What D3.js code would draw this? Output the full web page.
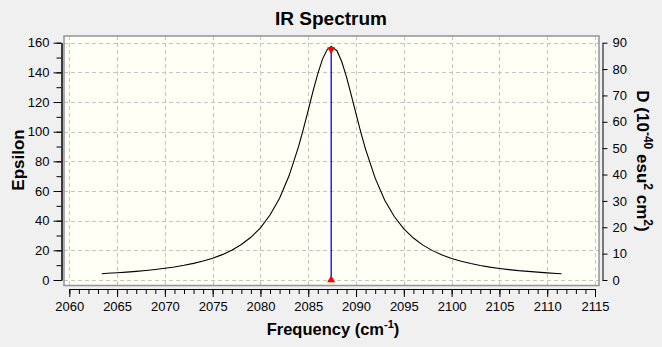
<!DOCTYPE html>
<html>
<head>
<meta charset="utf-8">
<script src="https://cdn.jsdelivr.net/npm/d3@7"></script>
<style>
  html, body { margin: 0; padding: 0; background: #f0f0f0; }
  svg { display: block; font-family: "Liberation Sans", Arial, sans-serif; }
</style>
</head>
<body>
<svg id="chart" width="662" height="347"></svg>
<script>
// Broadened IR band (Epsilon) sampled along frequency
const freq = [2063.4, 2064, 2065, 2066, 2067, 2068, 2069, 2070, 2071, 2072, 2073, 2074,
  2075, 2076, 2077, 2078, 2079, 2080, 2081, 2082, 2083, 2084, 2084.5, 2085, 2085.5,
  2086, 2086.5, 2087, 2087.4, 2088, 2088.5, 2089, 2089.5, 2090, 2090.5, 2091, 2092,
  2093, 2094, 2095, 2096, 2097, 2098, 2099, 2100, 2101, 2102, 2103, 2104, 2105, 2106,
  2107, 2108, 2109, 2110, 2111, 2111.5];
const epsilon = [4.2, 4.5, 4.9, 5.3, 5.8, 6.4, 7.1, 7.9, 8.8, 9.9, 11.2, 12.8,
  14.7, 17.1, 20.1, 23.9, 28.8, 35.2, 43.8, 55.1, 70.4, 90.3, 102.0, 114.5, 127.3,
  139.2, 149.1, 155.5, 157.5, 154.6, 147.3, 136.9, 124.7, 112.0, 99.6, 88.1, 68.7,
  53.8, 42.8, 34.5, 28.3, 23.5, 19.8, 16.9, 14.5, 12.6, 11.1, 9.8, 8.7, 7.8, 7.0,
  6.3, 5.8, 5.3, 4.8, 4.4, 4.2];

// Stick spectrum: dipole strength D (10^-40 esu^2 cm^2)
const stickFreq = [2087.4];
const stickD = [88.0];

// Axis ticks
const xTicks = [2060, 2065, 2070, 2075, 2080, 2085, 2090, 2095, 2100, 2105, 2110, 2115];
const xMinorTicks = d3.range(2060, 2116, 1);
const yTicks = [0, 20, 40, 60, 80, 100, 120, 140, 160];
const yMinorTicks = d3.range(0, 161, 10);
const y2Ticks = [0, 10, 20, 30, 40, 50, 60, 70, 80, 90];

const svg = d3.select("#chart");
const W = 662, H = 347;

const frame = { left: 64, top: 36, right: 599, bottom: 285.5 };

const x = d3.scaleLinear().domain([2060, 2115]).range([69.3, 595]);
const y = d3.scaleLinear().domain([0, 160]).range([280, 42.7]);
const y2 = d3.scaleLinear().domain([0, 90]).range([280, 42.7]);

svg.append("rect").attr("width", W).attr("height", H).attr("fill", "#f0f0f0");

// plot area
svg.append("rect")
  .attr("x", frame.left).attr("y", frame.top)
  .attr("width", frame.right - frame.left).attr("height", frame.bottom - frame.top)
  .attr("fill", "#fffff6");

// dashed grid
const grid = svg.append("g").attr("stroke", "#c4c4c4").attr("stroke-dasharray", "4,3").attr("stroke-width", 1);
grid.selectAll("line.h").data(yTicks).join("line")
  .attr("x1", frame.left).attr("x2", frame.right)
  .attr("y1", d => Math.round(y(d)) + 0.5).attr("y2", d => Math.round(y(d)) + 0.5);
grid.selectAll("line.v").data(xTicks).join("line")
  .attr("y1", frame.top).attr("y2", frame.bottom)
  .attr("x1", d => Math.round(x(d)) + 0.5).attr("x2", d => Math.round(x(d)) + 0.5);

// frame border
svg.append("rect")
  .attr("x", frame.left).attr("y", frame.top)
  .attr("width", frame.right - frame.left).attr("height", frame.bottom - frame.top)
  .attr("fill", "none").attr("stroke", "#8e949b").attr("stroke-width", 1.5);

// spectrum curve
const line = d3.line().x((d, i) => x(freq[i])).y(d => y(d));
svg.append("path").datum(epsilon)
  .attr("d", line).attr("fill", "none").attr("stroke", "#000").attr("stroke-width", 1.1);

// sticks
const sticks = stickFreq.map((f, i) => ({ f, d: stickD[i] }));
svg.selectAll("line.stick").data(sticks).join("line")
  .attr("x1", d => x(d.f)).attr("x2", d => x(d.f))
  .attr("y1", y2(0)).attr("y2", d => y2(d.d))
  .attr("stroke", "#0000ff").attr("stroke-width", 1.3);
const tri = d3.symbol().type(d3.symbolTriangle).size(28);
svg.selectAll("path.top").data(sticks).join("path")
  .attr("d", tri).attr("fill", "#ff0000")
  .attr("transform", d => `translate(${x(d.f)},${y2(d.d) + 1.5}) rotate(180)`);
svg.selectAll("path.bot").data(sticks).join("path")
  .attr("d", tri).attr("fill", "#ff0000")
  .attr("transform", d => `translate(${x(d.f)},${y2(0)})`);

const fmt = d3.format("d");
const styleAxis = g => {
  g.selectAll("text").attr("font-size", 13).attr("fill", "#000")
    .attr("font-family", "'Liberation Sans', Arial, sans-serif");
  g.selectAll("line, path").attr("stroke", "#000");
};

// left axis
svg.append("g").attr("transform", "translate(61.5,0)")
  .call(d3.axisLeft(y).tickValues(yMinorTicks).tickSize(5).tickSizeOuter(0).tickFormat(""))
  .call(styleAxis);
svg.append("g").attr("transform", "translate(61.5,0)")
  .call(d3.axisLeft(y).tickValues(yTicks).tickSize(8).tickSizeOuter(0).tickPadding(4).tickFormat(fmt))
  .call(styleAxis);

// bottom axis
svg.append("g").attr("transform", "translate(0,289)")
  .call(d3.axisBottom(x).tickValues(xMinorTicks).tickSize(5).tickSizeOuter(0).tickFormat(""))
  .call(styleAxis);
svg.append("g").attr("transform", "translate(0,289)")
  .call(d3.axisBottom(x).tickValues(xTicks).tickSize(8).tickSizeOuter(0).tickPadding(5).tickFormat(fmt))
  .call(styleAxis);

// right axis
svg.append("g").attr("transform", "translate(602.5,0)")
  .call(d3.axisRight(y2).tickValues(y2Ticks).tickSize(5).tickSizeOuter(0).tickPadding(5).tickFormat(fmt))
  .call(styleAxis);

// titles
svg.append("text").attr("x", 331).attr("y", 25).attr("text-anchor", "middle")
  .attr("font-size", 19).attr("font-weight", "bold").text("IR Spectrum");

const xt = svg.append("text").attr("x", 333).attr("y", 335).attr("text-anchor", "middle")
  .attr("font-size", 16.5).attr("font-weight", "bold");
xt.append("tspan").text("Frequency (cm");
xt.append("tspan").attr("dy", -7).attr("font-size", 11).text("-1");
xt.append("tspan").attr("dy", 7).text(")");

svg.append("text").attr("transform", "translate(24,160) rotate(-90)")
  .attr("text-anchor", "middle").attr("font-size", 17).attr("font-weight", "bold")
  .text("Epsilon");

const rt = svg.append("text").attr("transform", "translate(636.5,161) rotate(90)")
  .attr("text-anchor", "middle").attr("font-size", 17).attr("font-weight", "bold");
rt.append("tspan").text("D (10");
rt.append("tspan").attr("dy", -7).attr("font-size", 12).text("-40");
rt.append("tspan").attr("dy", 7).text(" esu");
rt.append("tspan").attr("dy", -7).attr("font-size", 12).text("2");
rt.append("tspan").attr("dy", 7).text(" cm");
rt.append("tspan").attr("dy", -7).attr("font-size", 12).text("2");
rt.append("tspan").attr("dy", 7).text(")");
</script>
</body>
</html>
